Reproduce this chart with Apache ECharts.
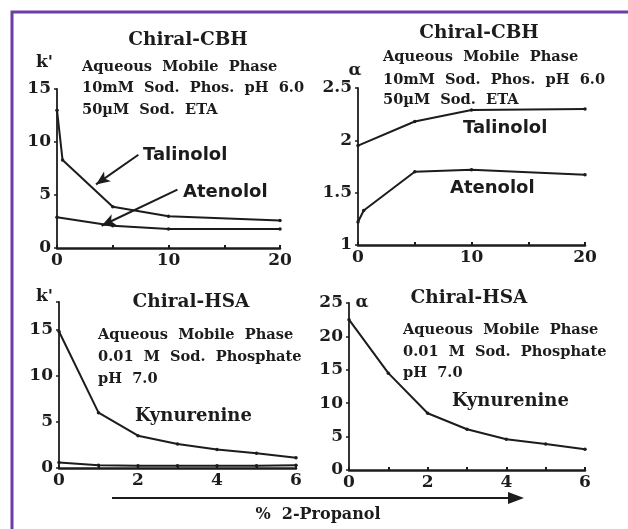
<!DOCTYPE html>
<html><head><meta charset="utf-8">
<script src="https://cdn.jsdelivr.net/npm/echarts@6/dist/echarts.min.js"></script>
<style>html,body{margin:0;padding:0;background:#fff}#c{width:628px;height:529px}</style>
</head><body><div id="c"></div>
<script>
// Chiral-CBH, k'
const cbhTalinololKx = [0, 0.5, 5, 10, 20];
const cbhTalinololK  = [13.0, 8.3, 3.9, 3.0, 2.6];
const cbhAtenololKx  = [0, 5, 10, 20];
const cbhAtenololK   = [2.9, 2.1, 1.8, 1.8];
// Chiral-CBH, alpha
const cbhTalinololAx = [0, 5, 10, 20];
const cbhTalinololA  = [1.95, 2.18, 2.29, 2.30];
const cbhAtenololAx  = [0, 0.5, 5, 10, 20];
const cbhAtenololA   = [1.22, 1.33, 1.70, 1.72, 1.67];
// Chiral-HSA
const hsaX           = [0, 1, 2, 3, 4, 5, 6];
const hsaKynK        = [14.8, 6.0, 3.5, 2.6, 2.0, 1.6, 1.1];
const hsaKynKLow     = [0.6, 0.3, 0.25, 0.25, 0.25, 0.25, 0.3];
const hsaKynA        = [22.5, 14.5, 8.5, 6.1, 4.6, 3.9, 3.1];

const INK = '#1c1c1c';
const SERIF = '"DejaVu Serif", "Liberation Serif", serif';
const SANS = '"DejaVu Sans", "Liberation Sans", Arial, sans-serif';

function pairs(xs, ys){ return xs.map((x,i)=>[x, ys[i]]); }

function xAx(gi, max, interval, labelEvery){
  return {
    type:'value', gridIndex: gi, min:0, max:max, interval:interval,
    axisLine:{show:true, onZero:false, lineStyle:{color:INK, width:2.5}},
    axisTick:{show:true, inside:true, length:3, lineStyle:{color:INK, width:2}},
    splitLine:{show:false},
    axisLabel:{color:INK, fontFamily:SERIF, fontWeight:'bold', fontSize:17, margin:4,
      formatter: v => (v % labelEvery === 0 ? String(v) : '')}
  };
}
function yAx(gi, min, max, interval, fmt){
  return {
    type:'value', gridIndex: gi, min:min, max:max, interval:interval,
    axisLine:{show:true, lineStyle:{color:INK, width:1.8}},
    axisTick:{show:true, length:3, lineStyle:{color:INK, width:1.5}},
    splitLine:{show:false},
    axisLabel:{color:INK, fontFamily:SERIF, fontWeight:'bold', fontSize:17, margin:6,
      formatter: fmt || (v => String(v))}
  };
}
function line(xi, data){
  return {type:'line', xAxisIndex:xi, yAxisIndex:xi, data:data, symbol:'circle', symbolSize:3.5,
    itemStyle:{color:INK}, lineStyle:{color:INK, width:2}, silent:true, animation:false};
}
function txt(x, y, s, font, align){
  return {type:'text', x:x, y:y, silent:true,
    style:{text:s, font:font, fill:INK, textAlign:align||'left', textVerticalAlign:'middle'}};
}

const titleFont = 'bold 18.5px ' + SERIF;
const subFont = 'bold 14.6px ' + SERIF;
const nameFont = 'bold 18px ' + SANS;
const kynFont = 'bold 18px ' + SERIF;
const axNameFont = 'bold 17px ' + SERIF;

const chart = echarts.init(document.getElementById('c'));
chart.setOption({
  animation:false,
  backgroundColor:'#ffffff',
  grid:[
    {left:57, top:89, width:223, height:159},
    {left:358, top:88, width:227, height:157},
    {left:59, top:302, width:237, height:166},
    {left:349, top:303, width:236, height:167}
  ],
  xAxis:[ xAx(0,20,5,10), xAx(1,20,5,10), xAx(2,6,1,2), xAx(3,6,1,2) ],
  yAxis:[
    yAx(0,0,15,5),
    yAx(1,1,2.5,0.5),
    yAx(2,0,18,5, v => (v % 5 === 0 ? String(v) : '')),
    yAx(3,0,25,5)
  ],
  series:[
    Object.assign(line(0, pairs(cbhTalinololKx, cbhTalinololK)), {
      markLine:{silent:true, symbol:['none','arrow'], symbolSize:[9,14], label:{show:false},
        lineStyle:{color:INK, width:2, type:'solid'}, animation:false,
        data:[
          [{coord:[7.3, 8.8]},{coord:[3.5, 6.0]}],
          [{coord:[10.8, 5.5]},{coord:[4.0, 2.1]}]
        ]}
    }),
    line(0, pairs(cbhAtenololKx, cbhAtenololK)),
    line(1, pairs(cbhTalinololAx, cbhTalinololA)),
    line(1, pairs(cbhAtenololAx, cbhAtenololA)),
    line(2, pairs(hsaX, hsaKynK)),
    line(2, pairs(hsaX, hsaKynKLow)),
    line(3, pairs(hsaX, hsaKynA))
  ],
  graphic:[
    {type:'rect', silent:true, shape:{x:12, y:12, width:700, height:600},
      style:{fill:null, stroke:'#6a3ea6', lineWidth:3}},
    // panel 1
    txt(188, 40, 'Chiral-CBH', titleFont, 'center'),
    txt(36, 63, "k'", axNameFont, 'left'),
    txt(82, 67, 'Aqueous  Mobile  Phase', subFont),
    txt(82, 88, '10mM  Sod.  Phos.  pH  6.0', subFont),
    txt(82, 110, '50µM  Sod.  ETA', subFont),
    txt(143, 155, 'Talinolol', nameFont),
    txt(183, 192, 'Atenolol', nameFont),
    // panel 2
    txt(479, 33, 'Chiral-CBH', titleFont, 'center'),
    txt(355, 71, 'α', axNameFont, 'center'),
    txt(383, 57, 'Aqueous  Mobile  Phase', subFont),
    txt(383, 80, '10mM  Sod.  Phos.  pH  6.0', subFont),
    txt(383, 100, '50µM  Sod.  ETA', subFont),
    txt(463, 128, 'Talinolol', nameFont),
    txt(450, 188, 'Atenolol', nameFont),
    // panel 3
    txt(191, 302, 'Chiral-HSA', titleFont, 'center'),
    txt(36, 297, "k'", axNameFont, 'left'),
    txt(98, 335, 'Aqueous  Mobile  Phase', subFont),
    txt(98, 357, '0.01  M  Sod.  Phosphate', subFont),
    txt(98, 379, 'pH  7.0', subFont),
    txt(135, 416, 'Kynurenine', kynFont),
    // panel 4
    txt(469, 298, 'Chiral-HSA', titleFont, 'center'),
    txt(362, 303, 'α', axNameFont, 'center'),
    txt(403, 330, 'Aqueous  Mobile  Phase', subFont),
    txt(403, 352, '0.01  M  Sod.  Phosphate', subFont),
    txt(403, 373, 'pH  7.0', subFont),
    txt(452, 401, 'Kynurenine', kynFont),
    // common x-axis arrow
    {type:'line', silent:true, shape:{x1:112, y1:498, x2:512, y2:498}, style:{stroke:INK, lineWidth:2}},
    {type:'polygon', silent:true, shape:{points:[[508,492],[524,498],[508,504]]}, style:{fill:INK}},
    txt(318, 515, '%  2-Propanol', 'bold 16px ' + SERIF, 'center')
  ]
});
</script></body></html>
